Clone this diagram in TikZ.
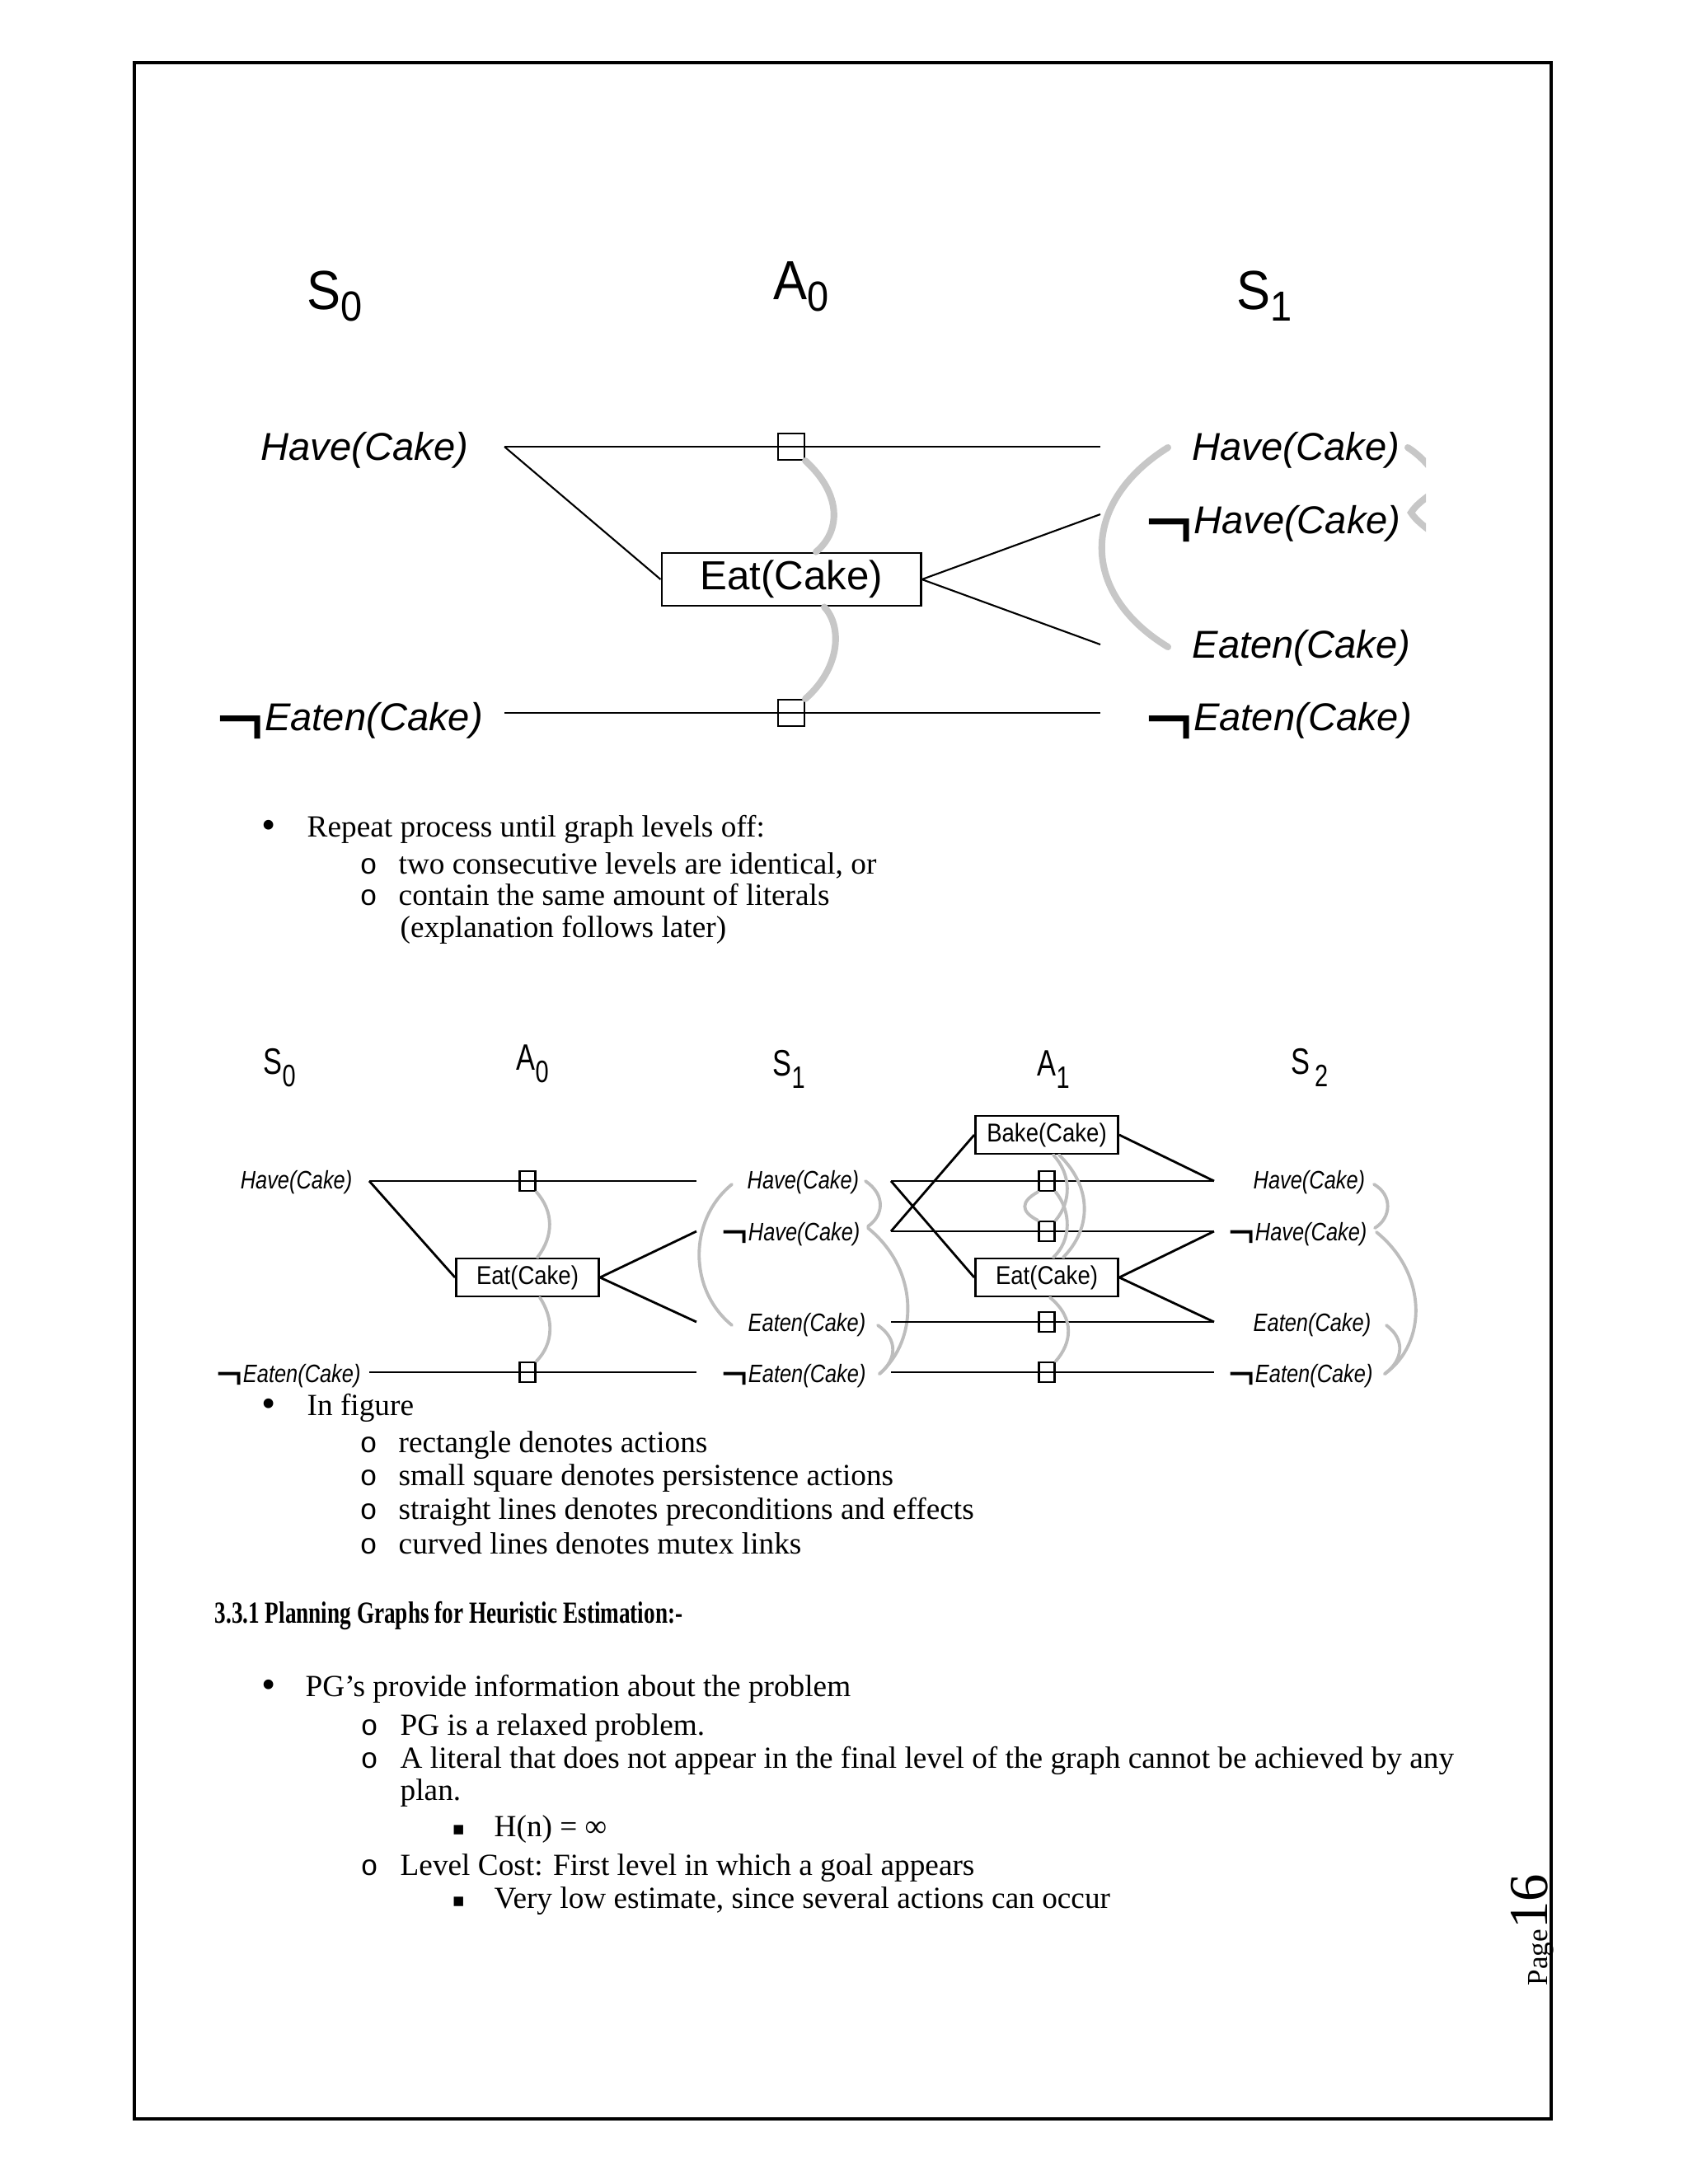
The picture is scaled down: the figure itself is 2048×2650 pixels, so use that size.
\documentclass[tikz,border=0pt]{standalone}
\usepackage{fontspec}
\setmainfont{Liberation Serif}
\newfontfamily\arial{Liberation Sans}
\newfontfamily\djv{DejaVu Sans}
\newfontfamily\cour{Liberation Mono}
\usetikzlibrary{calc}
\newcommand\fs[1]{\fontsize{#1}{#1}\selectfont}
\newcommand\ngA{{\upshape\fs{28.5}\raisebox{-5.4pt}{¬}}}
\newcommand\ngB{{\upshape\fs{15.7}\raisebox{-2.4pt}{¬}}}
\newcommand\nr[1]{\scalebox{0.83}[1]{#1}}
\newcommand\nb[1]{\scalebox{0.88}[1]{#1}}
\newcommand\ttlA[2]{\scalebox{0.92}[1]{\fs{19}#1\raisebox{-4pt}{\fs{14.5}#2}}}
\newcommand\ttlB[2]{\scalebox{0.77}[1]{\fs{12.7}#1\raisebox{-4.5pt}{\fs{10.7}#2}}}
\definecolor{mutA}{gray}{0.78}
\definecolor{mutB}{gray}{0.74}
\begin{document}
\begin{tikzpicture}[x=0.01cm,y=-0.01cm,
  ttl/.style={font=\arial,inner sep=0pt,anchor=base west},
  litA/.style={font=\arial\itshape\fs{13.4},inner sep=0pt,anchor=base west},
  litB/.style={font=\arial\itshape\fs{8.7},inner sep=0pt,anchor=base west},
  actA/.style={draw,line width=0.8pt,font=\arial\fs{14},minimum width=3.14cm,minimum height=0.64cm,inner sep=0pt},
  actB/.style={draw,line width=0.8pt,font=\arial\fs{8.9},minimum width=1.73cm,minimum height=0.46cm,inner sep=0pt},
  persA/.style={draw,line width=0.6pt,minimum width=0.32cm,minimum height=0.32cm,inner sep=0pt},
  persB/.style={draw,line width=0.7pt,minimum width=0.19cm,minimum height=0.24cm,inner sep=0pt},
  preA/.style={line width=0.6pt},
  preB/.style={line width=0.8pt},
  mutexA/.style={draw=mutA,line width=2.3pt,line cap=round},
  mutexB/.style={draw=mutB,line width=1.1pt,line cap=round},
  body/.style={font=\fs{10.6},inner sep=0pt,anchor=base west},
  bul/.style={font=\fs{14},inner sep=0pt,anchor=base west},
  obul/.style={font=\cour\fs{10},inner sep=0pt,anchor=base west},
  sbul/.style={font=\djv\fs{6.5},inner sep=0pt,anchor=base west}
]
\useasboundingbox (0,0) rectangle (2048,2650);
% page frame
\draw[line width=0.9pt] (163,76) rectangle (1882,2571);

%================ first figure ================
\node[ttl] (tS0) at (372,375) {\ttlA{S}{0}};
\node[ttl] (tA0) at (938,363) {\ttlA{A}{0}};
\node[ttl] (tS1) at (1500,375) {\ttlA{S}{1}};

\node[litA] (s0h) at (316,558) {Have(Cake)};
\node[litA] (s0ne) at (262,886) {\ngA Eaten(Cake)};
\node[litA] (s1h) at (1446,558) {Have(Cake)};
\node[litA] (s1nh) at (1389,647) {\ngA Have(Cake)};
\node[litA] (s1e) at (1446,798) {Eaten(Cake)};
\node[litA] (s1ne) at (1389,886) {\ngA Eaten(Cake)};

\coordinate (h0r) at (612,542);
\coordinate (h1l) at (1335,542);
\coordinate (ne0r) at (612,865);
\coordinate (ne1l) at (1335,865);
\coordinate (nh1l) at (1335,624);
\coordinate (e1l) at (1335,782);

\node[actA] (eat0) at (960,703) {Eat(Cake)};
\draw[preA] (h0r) -- (h1l);
\draw[preA] (ne0r) -- (ne1l);
\draw[preA] (h0r) -- (eat0.west);
\draw[preA] (eat0.east) -- (nh1l);
\draw[preA] (eat0.east) -- (e1l);
\node[persA] (pA1) at (960,542) {};
\node[persA] (pA2) at (960,865) {};

\draw[mutexA] (pA1.south east) .. controls (1022,600) and (1020,645) .. ($(eat0.north)+(30,0)$);
\draw[mutexA] ($(eat0.south)+(40,0)$) .. controls (1022,760) and (1020,810) .. (pA2.north east);
\draw[mutexA] (1417,543) .. controls (1310,610) and (1310,720) .. (1417,785);
\begin{scope}
\clip (1690,500) rectangle (1730,700);
\draw[mutexA] (1708,543) .. controls (1722,552) and (1735,565) .. (1748,585);
\draw[mutexA] (1750,590) .. controls (1732,602) and (1718,612) .. (1712,622) .. controls (1718,632) and (1732,642) .. (1750,655);
\end{scope}

%================ bullet list 1 ================
\node[bul] (b1) at (317,1017) {\smash{•}};
\node[body] (t1) at (372,1015) {Repeat process until graph levels off:};
\node[obul] (b2) at (436,1060) {o};
\node[body] (t2) at (483,1060) {two consecutive levels are identical, or};
\node[obul] (b3) at (436,1098) {o};
\node[body] (t3) at (483,1098) {contain the same amount of literals};
\node[body] (t4) at (485,1137) {(explanation follows later)};

%================ second figure ================
\node[ttl] (uS0) at (319,1303) {\ttlB{S}{0}};
\node[ttl] (uA0) at (626,1298) {\ttlB{A}{0}};
\node[ttl] (uS1) at (937,1305) {\ttlB{S}{1}};
\node[ttl] (uA1) at (1258,1305) {\ttlB{A}{1}};
\node[ttl] (uS2) at (1566,1303) {\ttlB{S\hspace{2pt}}{2}};

\node[litB,anchor=base east] (f0h) at (428,1442) {\nr{Have(Cake)}};
\node[litB] (f0ne) at (262,1677) {\ngB\nr{Eaten(Cake)}};
\node[litB] (f1h) at (906,1442) {\nr{Have(Cake)}};
\node[litB] (f1nh) at (875,1505) {\ngB\nr{Have(Cake)}};
\node[litB] (f1e) at (907,1615) {\nr{Eaten(Cake)}};
\node[litB] (f1ne) at (875,1677) {\ngB\nr{Eaten(Cake)}};
\node[litB] (f2h) at (1520,1442) {\nr{Have(Cake)}};
\node[litB] (f2nh) at (1490,1505) {\ngB\nr{Have(Cake)}};
\node[litB] (f2e) at (1520,1615) {\nr{Eaten(Cake)}};
\node[litB] (f2ne) at (1490,1677) {\ngB\nr{Eaten(Cake)}};

% level A0
\coordinate (g0h) at (448,1433);
\coordinate (g0ne) at (448,1665);
\coordinate (g1h) at (845,1433);
\coordinate (g1nh) at (845,1494);
\coordinate (g1e) at (845,1604);
\coordinate (g1ne) at (845,1665);
\node[actB] (eatB0) at (640,1550) {\nb{Eat(Cake)}};
\draw[preB] (g0h) -- (g1h);
\draw[preB] (g0ne) -- (g1ne);
\draw[preB] (g0h) -- (eatB0.west);
\draw[preB] (eatB0.east) -- (g1nh);
\draw[preB] (eatB0.east) -- (g1e);
\node[persB] (qA1) at (640,1433) {};
\node[persB] (qA2) at (640,1665) {};
\draw[mutexB] (qA1.south east) .. controls (672,1470) and (672,1500) .. ($(eatB0.north)+(12,0)$);
\draw[mutexB] ($(eatB0.south)+(15,0)$) .. controls (672,1600) and (672,1630) .. (qA2.north east);

% level S1 mutexes
\draw[mutexB] (888,1437) .. controls (835,1480) and (835,1565) .. (888,1608);
\draw[mutexB] (1050,1433) .. controls (1075,1450) and (1072,1475) .. (1053,1488);
\draw[mutexB] (1053,1490) .. controls (1115,1540) and (1115,1625) .. (1067,1667);
\draw[mutexB] (1065,1608) .. controls (1090,1625) and (1088,1650) .. (1067,1667);

% level A1
\coordinate (k1h) at (1081,1433);
\coordinate (k1nh) at (1081,1494);
\coordinate (k1e) at (1081,1604);
\coordinate (k1ne) at (1081,1665);
\coordinate (k2h) at (1473,1433);
\coordinate (k2nh) at (1473,1494);
\coordinate (k2e) at (1473,1604);
\coordinate (k2ne) at (1473,1665);
\node[actB] (bake1) at (1270,1377) {\nb{Bake(Cake)}};
\node[actB] (eatB1) at (1270,1550) {\nb{Eat(Cake)}};
\draw[preB] (k1h) -- (k2h);
\draw[preB] (k1nh) -- (k2nh);
\draw[preB] (k1e) -- (k2e);
\draw[preB] (k1ne) -- (k2ne);
\draw[preB] (k1h) -- (eatB1.west);
\draw[preB] (k1nh) -- (bake1.west);
\draw[preB] (bake1.east) -- (k2h);
\draw[preB] (eatB1.east) -- (k2nh);
\draw[preB] (eatB1.east) -- (k2e);
\node[persB] (qB1) at (1270,1433) {};
\node[persB] (qB2) at (1270,1494) {};
\node[persB] (qB3) at (1270,1604) {};
\node[persB] (qB4) at (1270,1665) {};
\draw[mutexB] ($(bake1.south)+(15,0)$) .. controls (1325,1440) and (1325,1490) .. ($(eatB1.north)+(20,0)$);
\draw[mutexB] (qB1.south west) .. controls (1238,1458) and (1238,1470) .. (qB2.north west);
\draw[mutexB] ($(bake1.south)+(8,0)$) .. controls (1300,1425) and (1300,1458) .. (qB2.north east);
\draw[mutexB] (qB1.south east) .. controls (1300,1470) and (1300,1505) .. ($(eatB1.north)+(8,0)$);
\draw[mutexB] ($(eatB1.south)+(4,0)$) .. controls (1305,1600) and (1300,1630) .. (qB4.north east);

% level S2 mutexes
\draw[mutexB] (1667,1437) .. controls (1690,1450) and (1688,1478) .. (1668,1490);
\draw[mutexB] (1670,1495) .. controls (1732,1545) and (1732,1630) .. (1680,1667);
\draw[mutexB] (1682,1608) .. controls (1705,1625) and (1703,1650) .. (1680,1667);

%================ bullet list 2 ================
\node[bul] (c1) at (317,1719) {\smash{•}};
\node[body] (u1) at (372,1717) {In figure};
\node[obul] (c2) at (436,1762) {o};
\node[body] (u2) at (483,1762) {rectangle denotes actions};
\node[obul] (c3) at (436,1802) {o};
\node[body] (u3) at (483,1802) {small square denotes persistence actions};
\node[obul] (c4) at (436,1843) {o};
\node[body] (u4) at (483,1843) {straight lines denotes preconditions and effects};
\node[obul] (c5) at (436,1885) {o};
\node[body] (u5) at (483,1885) {curved lines denotes mutex links};

%================ section ================
\node[body,font=\bfseries\fs{10.6}] (sec) at (260,1969) {\scalebox{0.73}[1]{3.3.1 Planning Graphs for Heuristic Estimation:-}};
\node[bul] (d1) at (317,2060) {\smash{•}};
\node[body] (v1) at (370,2058) {PG’s provide information about the problem};
\node[obul] (d2) at (437,2105) {o};
\node[body] (v2) at (485,2105) {PG is a relaxed problem.};
\node[obul] (d3) at (437,2145) {o};
\node[body] (v3) at (485,2145) {A literal that does not appear in the final level of the graph cannot be achieved by any};
\node[body] (v4) at (485,2184) {plan.};
\node[sbul] (d4) at (548,2226) {▪};
\node[body] (v5) at (599,2228) {H(n) = ∞};
\node[obul] (d5) at (437,2275) {o};
\node[body] (v6) at (485,2275) {Level Cost: First level in which a goal appears};
\node[sbul] (d6) at (548,2313) {▪};
\node[body] (v7) at (599,2315) {Very low estimate, since several actions can occur};

% page number
\node[rotate=90,anchor=base west,inner sep=0pt] (pg) at (1877,2410) {\fs{10}Page\fs{19}16};
\end{tikzpicture}
\end{document}
